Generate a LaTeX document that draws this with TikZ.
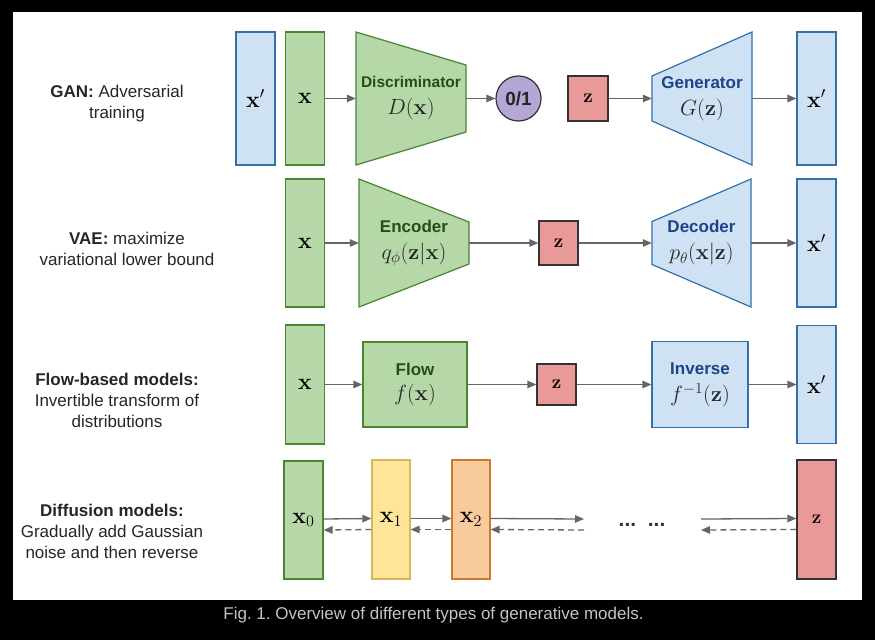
\RequirePackage{fix-cm}
\documentclass[tikz,border=0pt]{standalone}
\usepackage{amsmath}
\usepackage[no-math]{fontspec}
\setmainfont{Liberation Sans}
\usetikzlibrary{arrows.meta}

\definecolor{grfill}{HTML}{B6D7A8}
\definecolor{grline}{HTML}{4A8530}
\definecolor{grtext}{HTML}{274E13}
\definecolor{blfill}{HTML}{CFE2F3}
\definecolor{blline}{HTML}{3270AE}
\definecolor{bltext}{HTML}{1C4587}
\definecolor{rdfill}{HTML}{EA9999}
\definecolor{ylfill}{HTML}{FFE599}
\definecolor{ylline}{HTML}{D6B656}
\definecolor{orfill}{HTML}{F9CB9C}
\definecolor{orline}{HTML}{C97A2F}
\definecolor{pufill}{HTML}{B4A7D6}
\definecolor{arrgray}{HTML}{666666}
\definecolor{capgray}{HTML}{C4C4C4}

\newcommand{\fml}[1]{{\fontsize{22}{24}\selectfont\color{black!85}$#1$}}

\begin{document}
\frenchspacing
\begin{tikzpicture}[x=1pt, y=-1pt,
  box/.style={draw, line width=1.2pt, inner sep=0pt, minimum width=39pt, font=\fontsize{23}{25}\selectfont},
  grbox/.style={box, draw=grline, fill=grfill},
  blbox/.style={box, draw=blline, fill=blfill},
  rdbox/.style={box, draw=black!80, fill=rdfill, font=\fontsize{19}{21}\selectfont},
  ylbox/.style={box, draw=ylline, fill=ylfill},
  orbox/.style={box, draw=orline, fill=orfill},
  trap/.style={inner sep=0pt, align=center, font=\fontsize{17}{27}\selectfont\bfseries},
  shp/.style={line width=1.2pt},
  lbl/.style={align=center, text=black!85, font=\fontsize{17}{21}\selectfont},
  arr/.style={draw=arrgray, line width=1.3pt, -{Triangle[length=9pt,width=7.5pt]}},
  darr/.style={arr, dash pattern=on 6pt off 4pt}]

\useasboundingbox[fill=black] (0,0) rectangle (875,640);
\fill[white] (13,12) rectangle (862,600);

% GAN
\node[lbl] (lgan) at (117,103.5) {\textbf{GAN:} Adversarial\\training};
\node[blbox, minimum height=133pt] (xg1) at (255.5,98.5) {$\mathbf{x}'$};
\node[grbox, minimum height=133pt] (xg) at (305,98.5) {$\mathbf{x}$};
\filldraw[shp, draw=grline, fill=grfill] (356,32) -- (466,65) -- (466,132) -- (356,165) -- cycle;
\node[trap, text=grtext, minimum width=110pt, minimum height=133pt] (disc) at (411,98.5)
  {{\fontsize{15.5}{18}\selectfont Discriminator}\\\fml{D(\mathbf{x})}};
\node[circle, draw=black!80, fill=pufill, line width=1.2pt, minimum size=45pt, inner sep=0pt,
  text=black!85, font=\fontsize{19}{22}\selectfont\bfseries] (dout) at (518.5,98.5) {0/1};
\node[rdbox, minimum width=40pt, minimum height=45pt] (zg) at (588,98.5) {$\mathbf{z}$};
\filldraw[shp, draw=blline, fill=blfill] (652,76) -- (752,32) -- (752,165) -- (652,121) -- cycle;
\node[trap, text=bltext, minimum width=100pt, minimum height=133pt] (gen) at (702,98.5)
  {Generator\\\fml{G(\mathbf{z})}};
\node[blbox, minimum height=133pt] (xg2) at (816.5,98.5) {$\mathbf{x}'$};
\draw[arr] (xg) -- (disc);
\draw[arr] (disc) -- (dout);
\draw[arr] (zg) -- (gen);
\draw[arr] (gen) -- (xg2);

% VAE
\node[lbl] (lvae) at (127,248.5) {\textbf{VAE:} maximize\\variational lower bound};
\node[grbox, minimum height=128pt] (xv) at (305,243) {$\mathbf{x}$};
\filldraw[shp, draw=grline, fill=grfill] (359,179) -- (469,222) -- (469,264) -- (359,307) -- cycle;
\node[trap, text=grtext, minimum width=110pt, minimum height=128pt] (enc) at (414,243)
  {Encoder\\\fml{q_\phi(\mathbf{z}|\mathbf{x})}};
\node[rdbox, minimum height=44pt] (zv) at (558.5,243) {$\mathbf{z}$};
\filldraw[shp, draw=blline, fill=blfill] (652,221.5) -- (751,179) -- (751,307) -- (652,264.5) -- cycle;
\node[trap, text=bltext, minimum width=99pt, minimum height=128pt] (dec) at (701.5,243)
  {Decoder\\\fml{p_\theta(\mathbf{x}|\mathbf{z})}};
\node[blbox, minimum height=128pt] (xv2) at (816.5,243) {$\mathbf{x}'$};
\draw[arr] (xv) -- (enc);
\draw[arr] (enc) -- (zv);
\draw[arr] (zv) -- (dec);
\draw[arr] (dec) -- (xv2);

% Flow
\node[lbl] (lflow) at (117,400) {\textbf{Flow-based models:}\\Invertible transform of\\distributions};
\node[grbox, minimum height=119pt] (xf) at (305,384.5) {$\mathbf{x}$};
\node[grbox, trap, text=grtext, minimum width=104pt, minimum height=85pt, font=\fontsize{17}{25}\selectfont\bfseries] (flow) at (415,384.5)
  {Flow\\\fml{f(\mathbf{x})}};
\node[rdbox, minimum height=41pt] (zf) at (556.5,384.5) {$\mathbf{z}$};
\node[blbox, trap, text=bltext, minimum width=96pt, minimum height=86pt, font=\fontsize{17}{27}\selectfont\bfseries] (inv) at (700,384.5)
  {Inverse\\\fml{f^{-1}(\mathbf{z})}};
\node[blbox, minimum height=118pt] (xf2) at (816.5,384.5) {$\mathbf{x}'$};
\draw[arr] (xf) -- (flow);
\draw[arr] (flow) -- (zf);
\draw[arr] (zf) -- (inv);
\draw[arr] (inv) -- (xf2);

% Diffusion
\node[lbl] (ldiff) at (112,531) {\textbf{Diffusion models:}\\Gradually add Gaussian\\noise and then reverse};
\node[grbox, minimum height=118pt] (x0) at (303.5,520) {$\mathbf{x}_0$};
\node[ylbox, minimum width=38pt, minimum height=119pt] (x1) at (391,519.5) {$\mathbf{x}_1$};
\node[orbox, minimum width=38pt, minimum height=119pt] (x2) at (471,519.5) {$\mathbf{x}_2$};
\node[rdbox, minimum height=119pt] (zd) at (816.5,519.5) {$\mathbf{z}$};
\coordinate (gapl) at (584,520);
\coordinate (gapr) at (701,520);
\node[text=black!80, font=\fontsize{21}{24}\selectfont\bfseries] (dots) at (642,525) {...\ \ ...};
\draw[arr] ([yshift=1pt]x0.east) -- ([yshift=1pt]x1.west);
\draw[arr] ([yshift=1pt]x1.east) -- ([yshift=1pt]x2.west);
\draw[arr] ([yshift=1pt]x2.east) -- ([yshift=1pt]gapl);
\draw[arr] ([yshift=1pt]gapr) -- ([yshift=1pt]zd.west);
\draw[darr] ([yshift=-10pt]x1.west) -- ([yshift=-10pt]x0.east);
\draw[darr] ([yshift=-10pt]x2.west) -- ([yshift=-10pt]x1.east);
\draw[darr] ([yshift=-10pt]gapl) -- ([yshift=-10pt]x2.east);
\draw[darr] ([yshift=-10pt]zd.west) -- ([yshift=-10pt]gapr);

\node[anchor=base, text=capgray, font=\fontsize{17}{20}\selectfont] (cap) at (433.5,619)
  {Fig. 1. Overview of different types of generative models.};
\end{tikzpicture}
\end{document}
